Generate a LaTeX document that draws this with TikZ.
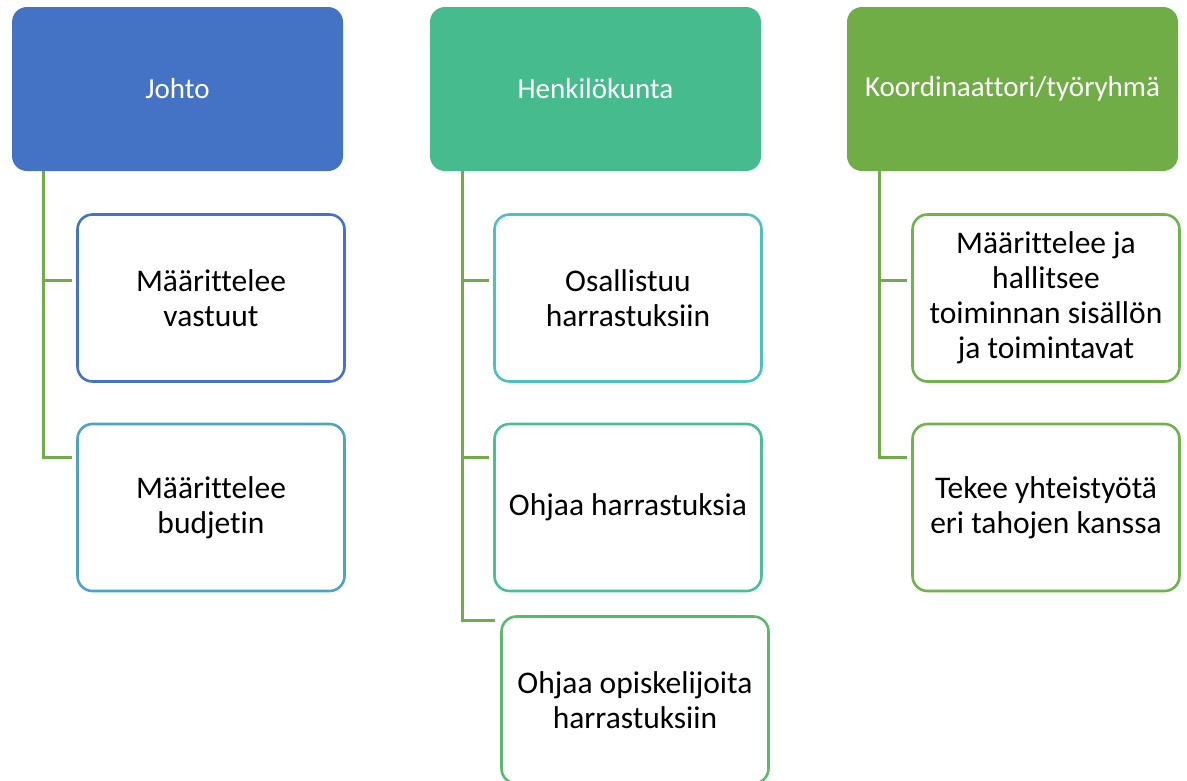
\documentclass[tikz,border=0pt]{standalone}
\usepackage{fontspec}
\setmainfont{Carlito}[Ligatures=NoCommon]
\definecolor{cBlue}{HTML}{4472C4}
\definecolor{cTeal}{HTML}{46BC8E}
\definecolor{cGreen}{HTML}{70AD47}
\definecolor{bBlue}{HTML}{4472C4}
\definecolor{bSky}{HTML}{4BA3C7}
\definecolor{bCyan}{HTML}{4CC2C0}
\definecolor{bMint}{HTML}{48BF95}
\definecolor{bLeaf}{HTML}{56BC6C}
\definecolor{bGrass}{HTML}{6DB548}
\begin{document}
\begin{tikzpicture}[x=1pt,y=-1pt,
  head/.style={draw=none, rounded corners=15pt, minimum width=331pt, minimum height=164pt,
    text=white, font=\fontsize{29}{35}\selectfont, align=center, inner sep=0pt},
  kid/.style={draw=#1, line width=2.6pt, fill=white, rounded corners=15pt, minimum width=267pt,
    minimum height=167pt, text=black, font=\fontsize{31.5}{35}\selectfont, align=center, inner sep=0pt},
  link/.style={draw=cGreen, line width=3pt}]
\useasboundingbox (0,0) rectangle (1187,780);
% headers
\node[head, fill=cBlue]  (h1) at (177.5,89) {Johto};
\node[head, fill=cTeal]  (h2) at (595.5,89) {Henkilökunta};
\node[head, fill=cGreen] (h3) at (1012.5,89) {Koordinaattori/työryhmä};
% children
\node[kid=bBlue]  (a1) at (211,298) {Määrittelee\\vastuut};
\node[kid=bSky]   (a2) at (211,507.5) {Määrittelee\\budjetin};
\node[kid=bCyan]  (b1) at (628,298) {Osallistuu\\harrastuksiin};
\node[kid=bMint]  (b2) at (628,507.5) {Ohjaa harrastuksia};
\node[kid=bLeaf]  (b3) at (635,700) {Ohjaa opiskelijoita\\harrastuksiin};
\node[kid=bGrass] (c1) at (1046,298) {Määrittelee ja\\hallitsee\\toiminnan sisällön\\ja toimintavat};
\node[kid=bGrass] (c2) at (1046,507.5) {Tekee yhteistyötä\\eri tahojen kanssa};
% connectors
\coordinate (ja1) at (43,280); \coordinate (ja2) at (43,457);
\draw[link] (h1.south -| ja1) -- (ja2) -- ([xshift=-4pt]a2.west |- ja2);
\draw[link] (ja1) -- ([xshift=-4pt]a1.west |- ja1);
\coordinate (jb1) at (462,280); \coordinate (jb2) at (462,457); \coordinate (jb3) at (462,620);
\draw[link] (h2.south -| jb1) -- (jb3) -- ([xshift=-5pt]b3.west |- jb3);
\draw[link] (jb1) -- ([xshift=-4pt]b1.west |- jb1);
\draw[link] (jb2) -- ([xshift=-4pt]b2.west |- jb2);
\coordinate (jc1) at (879,280); \coordinate (jc2) at (879,457);
\draw[link] (h3.south -| jc1) -- (jc2) -- ([xshift=-4pt]c2.west |- jc2);
\draw[link] (jc1) -- ([xshift=-4pt]c1.west |- jc1);
\end{tikzpicture}
\end{document}
